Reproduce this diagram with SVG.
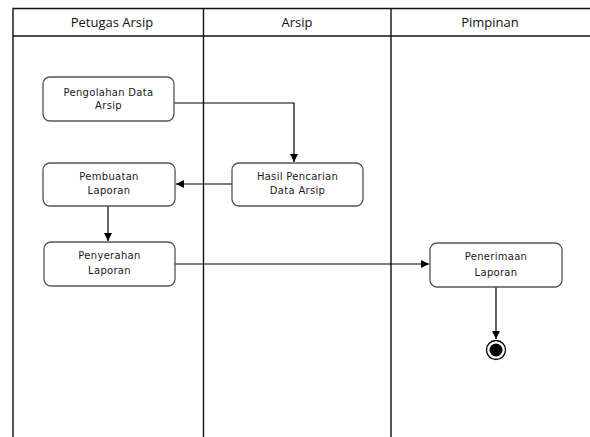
<svg xmlns="http://www.w3.org/2000/svg" width="590" height="437" viewBox="0 0 590 437">
<style>
.lane{stroke:#111;stroke-width:1.4;fill:none}
.hdr{font-family:"Open Sans","DejaVu Sans",sans-serif;font-size:13px;fill:#111;text-anchor:middle}
.box{fill:#fff;stroke:#555;stroke-width:1.3}
.lbl{font-family:"DejaVu Sans","Open Sans",sans-serif;font-size:10px;fill:#1a1a1a;text-anchor:middle;letter-spacing:0.3px}
.edge{stroke:#000;stroke-width:1.2;fill:none}
</style>
<defs>
<marker id="arr" viewBox="0 0 10 10" refX="10" refY="5" markerWidth="8" markerHeight="8" markerUnits="userSpaceOnUse" orient="auto">
<path d="M0,0 L10,5 L0,10 z" fill="#000"/>
</marker>
</defs>
<rect width="590" height="437" fill="#fff"/>
<g id="lanes">
<path class="lane" d="M13,437 V8.5 H592"/>
<path class="lane" d="M13,36 H592" stroke="#444"/>
<path class="lane" d="M203.5,8.5 V437"/>
<path class="lane" d="M391,8.5 V437"/>
<text class="hdr" x="112" y="27">Petugas Arsip</text>
<text class="hdr" x="297" y="27">Arsip</text>
<text class="hdr" x="490" y="27">Pimpinan</text>
</g>
<g id="connectors">
<path class="edge" d="M174,103 H294 V162" marker-end="url(#arr)"/>
<path class="edge" d="M232,184 H176" marker-end="url(#arr)"/>
<path class="edge" d="M108,206 V241" marker-end="url(#arr)"/>
<path class="edge" d="M175,264 H429" marker-end="url(#arr)"/>
<path class="edge" d="M496,287 V339" marker-end="url(#arr)"/>
</g>
<g id="n1">
<rect class="box" x="43" y="77" width="131" height="44" rx="7"/>
<text class="lbl" x="108.5" y="96">Pengolahan Data</text>
<text class="lbl" x="108.5" y="109">Arsip</text>
</g>
<g id="n2">
<rect class="box" x="43" y="163" width="132" height="43" rx="7"/>
<text class="lbl" x="109" y="180">Pembuatan</text>
<text class="lbl" x="109" y="194">Laporan</text>
</g>
<g id="n3">
<rect class="box" x="232" y="163" width="131" height="43" rx="7"/>
<text class="lbl" x="297.5" y="180">Hasil Pencarian</text>
<text class="lbl" x="297.5" y="194">Data Arsip</text>
</g>
<g id="n4">
<rect class="box" x="44" y="242" width="131" height="44" rx="7"/>
<text class="lbl" x="109.5" y="259">Penyerahan</text>
<text class="lbl" x="109.5" y="274">Laporan</text>
</g>
<g id="n5">
<rect class="box" x="430" y="243" width="132" height="44" rx="7"/>
<text class="lbl" x="496" y="260">Penerimaan</text>
<text class="lbl" x="496" y="276">Laporan</text>
</g>
<g id="end">
<circle cx="496" cy="350" r="9.5" fill="#fff" stroke="#000" stroke-width="1.3"/>
<circle cx="496" cy="350" r="6.5" fill="#000"/>
</g>
</svg>
